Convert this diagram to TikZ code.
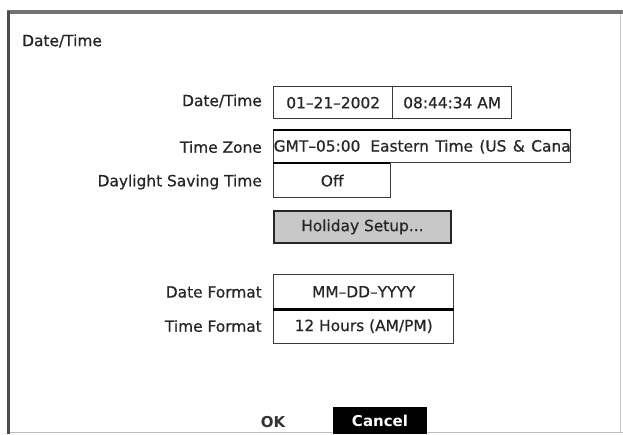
\documentclass[tikz,border=0pt]{standalone}
\usepackage{fontspec}
\setmainfont{DejaVu Sans}
\newfontfamily\uifont{DejaVu Sans}[FakeBold=0.6]
\definecolor{boxline}{HTML}{3A3A3A}
\definecolor{btnfill}{HTML}{C8C8C8}
\tikzset{
  uitext/.style={font=\uifont\fontsize{15.4}{18}\selectfont, text=black!85},
  lbl/.style={uitext, anchor=east, inner sep=0pt},
  field/.style={uitext, draw=boxline, line width=1.4pt, fill=white, anchor=north west, inner sep=0pt},
  button/.style={field, fill=btnfill, draw=black!85, line width=1.8pt},
}
\begin{document}
\begin{tikzpicture}[x=1pt,y=-1pt]
\useasboundingbox (0,0) rectangle (623,434);
\fill[white] (0,0) rectangle (623,434);
% frame
\draw[line width=0.8pt, black!25] (8,432.5) -- (623,432.5);
\draw[line width=0.8pt, black!20] (620,12) -- (620,432);
\draw[line width=3.5pt, black!55] (7,12) -- (623,12);
\draw[line width=3pt, black!70] (8.5,10.5) -- (8.5,434);
% title
\node[uitext, anchor=west, inner sep=0pt] (title) at (22,41) {Date/Time};
% labels
\node[lbl] (l1) at (262,101) {Date/Time};
\node[lbl] (l2) at (262,147) {Time Zone};
\node[lbl] (l3) at (262,182) {Daylight Saving Time};
\node[lbl] (l4) at (262,292) {Date Format};
\node[lbl] (l5) at (262,326) {Time Format};
% fields
\node[field, minimum width=119pt, minimum height=32pt] (date) at (273,86) {01–21–2002};
\node[field, minimum width=119pt, minimum height=32pt] (time) at (392,86) {08:44:34 AM};
\node[field, minimum width=297pt, minimum height=32pt] (tz) at (273,130) {};
\begin{scope}
\clip (tz.south west) rectangle (tz.north east);
\node[uitext, anchor=west, inner sep=0pt] (tztext) at ([xshift=0.5pt]tz.west) {GMT–05:00\hspace{10pt}Eastern\hspace{1.5pt} Time\hspace{1.5pt} (US\hspace{1.5pt} \&\hspace{1.5pt} Canada)};
\end{scope}
\draw[line width=2pt, black] (tz.north west) -- (tz.north east);
\node[field, minimum width=117pt, minimum height=34pt] (dst) at (273,163) {Off};
\draw[line width=2pt, black] (tz.south west) -- ([xshift=117pt]tz.south west);
\node[button, minimum width=177pt, minimum height=32pt] (holiday) at (273,210) {Holiday Setup...};
\node[field, minimum width=180pt, minimum height=34pt] (df) at (273,274) {MM–DD–YYYY};
\node[field, minimum width=180pt, minimum height=35pt] (tf) at (273,308) {12 Hours (AM/PM)};
\draw[line width=2.2pt, black] (df.south west) -- (df.south east);
% buttons
\node[inner sep=0pt, font=\fontsize{15}{18}\selectfont\bfseries, text=black!80] (ok) at (273,422) {OK};
\fill[black] (333,407) rectangle (427,434);
\node[inner sep=0pt, font=\fontsize{15}{18}\selectfont\bfseries, text=white] (cancel) at (380,421) {Cancel};
\end{tikzpicture}
\end{document}
